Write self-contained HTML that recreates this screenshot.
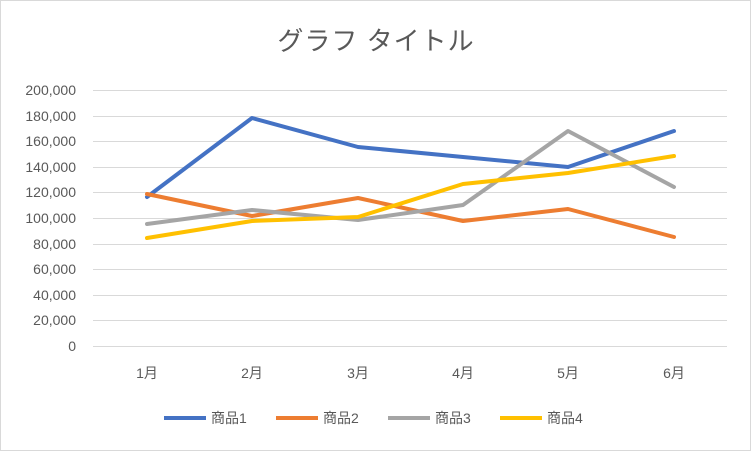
<!DOCTYPE html>
<html><head><meta charset="utf-8"><style>
body{margin:0;background:#fff}
svg{display:block}
text{font-family:"Liberation Sans","Noto Sans CJK JP",sans-serif;fill:#595959}
</style></head><body>
<svg width="751" height="451" viewBox="0 0 751 451">
<rect x="0.5" y="0.5" width="750" height="450" fill="#fff" stroke="#d9d9d9"/>
<text x="376" y="50" font-size="26" letter-spacing="1" text-anchor="middle">グラフ タイトル</text>
<g stroke="#d9d9d9" stroke-width="1">
<line x1="93" x2="727" y1="90.5" y2="90.5"/><line x1="93" x2="727" y1="116.5" y2="116.5"/>
<line x1="93" x2="727" y1="141.5" y2="141.5"/><line x1="93" x2="727" y1="167.5" y2="167.5"/>
<line x1="93" x2="727" y1="192.5" y2="192.5"/><line x1="93" x2="727" y1="218.5" y2="218.5"/>
<line x1="93" x2="727" y1="244.5" y2="244.5"/><line x1="93" x2="727" y1="269.5" y2="269.5"/>
<line x1="93" x2="727" y1="295.5" y2="295.5"/><line x1="93" x2="727" y1="320.5" y2="320.5"/>
<line x1="93" x2="727" y1="346.5" y2="346.5"/>
</g>
<g font-size="14" text-anchor="end">
<text x="76" y="95">200,000</text><text x="76" y="121">180,000</text><text x="76" y="146">160,000</text>
<text x="76" y="172">140,000</text><text x="76" y="197">120,000</text><text x="76" y="223">100,000</text>
<text x="76" y="249">80,000</text><text x="76" y="274">60,000</text><text x="76" y="300">40,000</text>
<text x="76" y="325">20,000</text><text x="76" y="351">0</text>
</g>
<g font-size="14" text-anchor="middle">
<text x="147" y="378">1月</text><text x="252" y="378">2月</text><text x="358" y="378">3月</text>
<text x="463" y="378">4月</text><text x="568" y="378">5月</text><text x="674" y="378">6月</text>
</g>
<g fill="none" stroke-width="4" stroke-linejoin="round" stroke-linecap="round">
<polyline stroke="#4472c4" points="147,197 252,118 358,147 463,157 568,167 674,131"/>
<polyline stroke="#ed7d31" points="147,194 252,216 358,198 463,221 568,209 674,237"/>
<polyline stroke="#a5a5a5" points="147,224 252,210 358,220 463,205 568,131 674,187"/>
<polyline stroke="#ffc000" points="147,238 252,221 358,217 463,184 568,173 674,156"/>
</g>
<g stroke-width="4">
<line x1="164" x2="206" y1="418" y2="418" stroke="#4472c4"/>
<line x1="276" x2="318" y1="418" y2="418" stroke="#ed7d31"/>
<line x1="388" x2="430" y1="418" y2="418" stroke="#a5a5a5"/>
<line x1="500" x2="542" y1="418" y2="418" stroke="#ffc000"/>
</g>
<g font-size="14">
<text x="211" y="423">商品1</text><text x="323" y="423">商品2</text>
<text x="435" y="423">商品3</text><text x="547" y="423">商品4</text>
</g>
</svg>
</body></html>
